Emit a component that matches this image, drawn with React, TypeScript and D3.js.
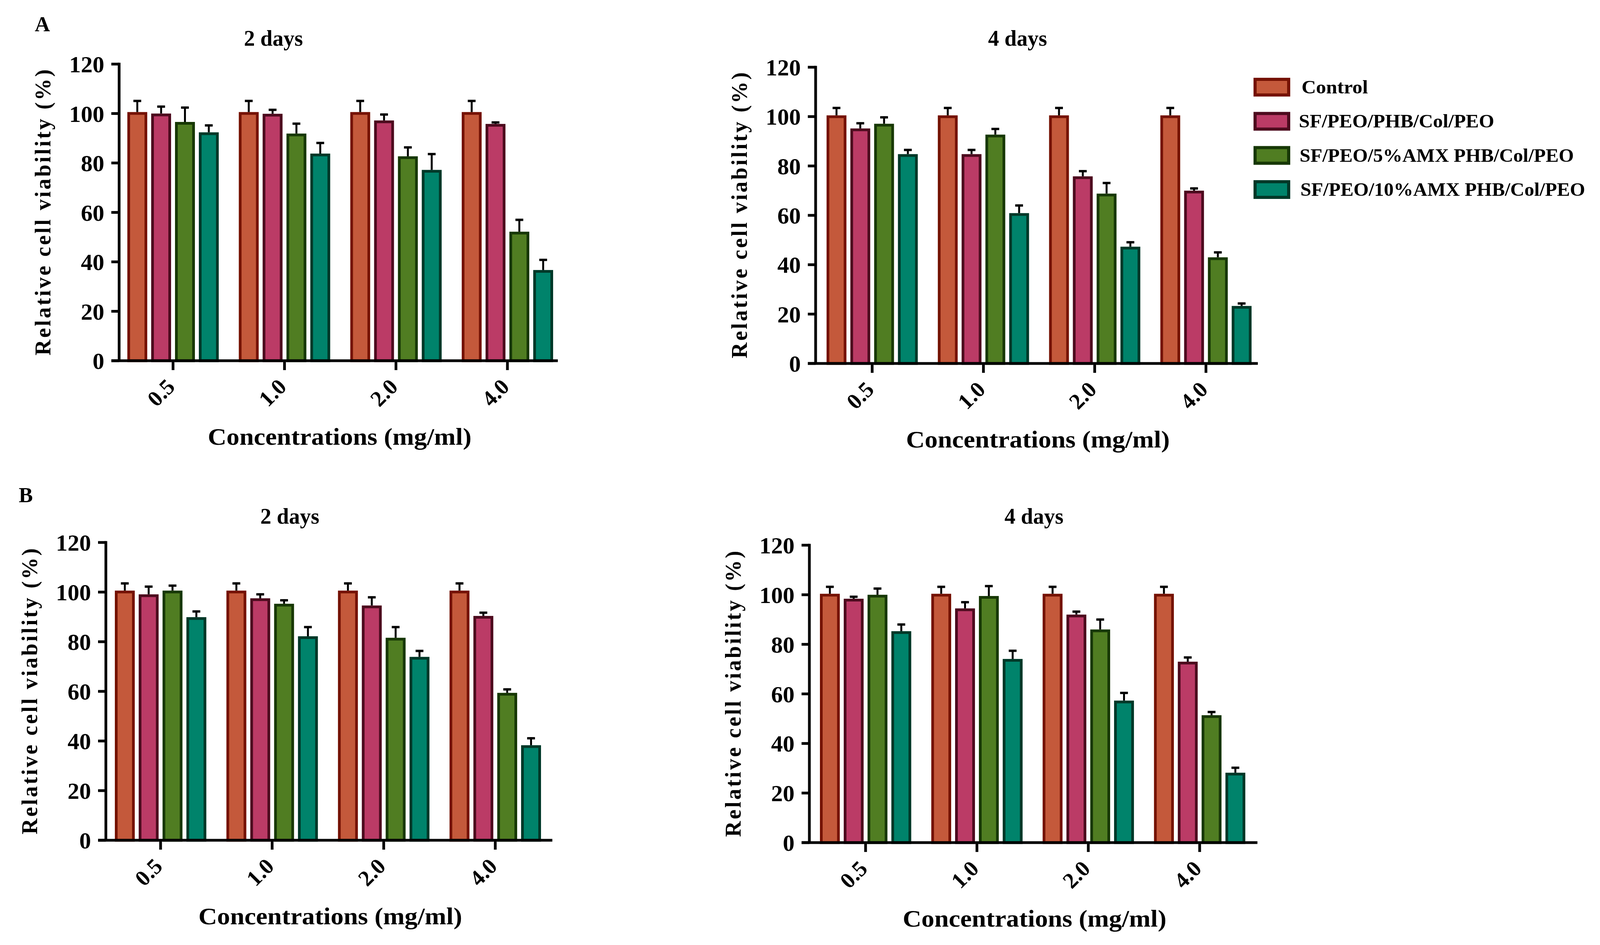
import * as d3 from 'd3';

const categories = ['0.5', '1.0', '2.0', '4.0'];
const seriesNames = [
  'Control',
  'SF/PEO/PHB/Col/PEO',
  'SF/PEO/5%AMX PHB/Col/PEO',
  'SF/PEO/10%AMX PHB/Col/PEO',
];
const yTickValues = [0, 20, 40, 60, 80, 100, 120];

// rows = series, columns = concentrations
const a2Means = [
  [100.6, 100.6, 100.6, 100.6],
  [100.0, 99.9, 97.2, 95.8],
  [96.6, 91.9, 82.7, 52.2],
  [92.4, 83.8, 77.2, 36.7],
];
const a2Errors = [
  [4.5, 4.5, 4.5, 4.5],
  [2.8, 1.6, 2.4, 0.6],
  [5.8, 4.0, 3.6, 4.8],
  [2.8, 4.3, 6.4, 4.1],
];
const a4Means = [
  [100.5, 100.5, 100.5, 100.5],
  [95.2, 84.8, 75.8, 70.0],
  [97.1, 92.7, 68.8, 43.0],
  [84.8, 60.9, 47.3, 23.3],
];
const a4Errors = [
  [3.0, 3.0, 3.0, 3.0],
  [2.1, 1.7, 2.1, 0.9],
  [2.6, 2.3, 4.3, 2.0],
  [1.7, 3.1, 1.8, 1.0],
];
const b2Means = [
  [100.6, 100.6, 100.6, 100.6],
  [99.1, 97.5, 94.6, 90.4],
  [100.6, 95.3, 81.6, 59.4],
  [89.9, 82.2, 73.9, 38.3],
];
const b2Errors = [
  [2.9, 2.9, 2.9, 2.9],
  [3.1, 1.6, 3.3, 1.3],
  [2.0, 1.4, 4.3, 1.4],
  [2.3, 3.7, 2.4, 2.8],
];
const b4Means = [
  [100.4, 100.4, 100.4, 100.4],
  [98.4, 94.5, 92.0, 73.0],
  [100.0, 99.5, 86.0, 51.4],
  [85.3, 74.1, 57.3, 28.2],
];
const b4Errors = [
  [2.8, 2.8, 2.8, 2.8],
  [0.8, 2.5, 1.2, 1.7],
  [2.5, 4.0, 4.0, 1.3],
  [2.7, 3.3, 3.1, 2.0],
];

const fills = ['#c4593b', '#bb3b66', '#507d22', '#00836b'];
const borders = ['#751203', '#4d0a1e', '#173805', '#003828'];

const FONT = '"Liberation Serif", "Times New Roman", serif';
const W = 4102;
const H = 2418;

interface PanelLayout {
  key: string;
  title: string;
  titleX: number;
  titleY: number;
  axisX: number;
  xEnd: number;
  bandStart: number;
  bandEnd: number;
  yTop: number;
  yBottom: number;
  means: number[][];
  errors: number[][];
}

const panels: PanelLayout[] = [
  { key: 'a2', title: '2 days', titleX: 700, titleY: 117, axisX: 305, xEnd: 1428, bandStart: 326, bandEnd: 1416, yTop: 164, yBottom: 923, means: a2Means, errors: a2Errors },
  { key: 'a4', title: '4 days', titleX: 2605, titleY: 117, axisX: 2088, xEnd: 3220, bandStart: 2116, bandEnd: 3204, yTop: 172, yBottom: 930, means: a4Means, errors: a4Errors },
  { key: 'b2', title: '2 days', titleX: 742, titleY: 1340, axisX: 271, xEnd: 1414, bandStart: 294, bandEnd: 1385, yTop: 1388, yBottom: 2150, means: b2Means, errors: b2Errors },
  { key: 'b4', title: '4 days', titleX: 2647, titleY: 1340, axisX: 2072, xEnd: 3219, bandStart: 2099, bandEnd: 3188, yTop: 1395, yBottom: 2156, means: b4Means, errors: b4Errors },
];

const legendWidths = [170, 500, 702, 729];

function Panel({ p }: { p: PanelLayout }) {
  const x = d3.scaleBand<string>().domain(categories).range([p.bandStart, p.bandEnd]).paddingInner(0.18);
  const xs = d3.scaleBand<number>().domain(d3.range(seriesNames.length)).range([0, x.bandwidth()]).paddingInner(0.165);
  const y = d3.scaleLinear().domain([0, 120]).range([p.yBottom, p.yTop]);
  const sw = 7;
  const capW = 20;

  return (
    <g>
      <text x={p.titleX} y={p.titleY} textAnchor="middle" fontFamily={FONT} fontWeight="bold" fontSize={56}>{p.title}</text>

      {categories.map((cat, ci) => (
        <g key={cat}>
          {seriesNames.map((_, si) => {
            const v = p.means[si][ci];
            const bx = (x(cat) ?? 0) + (xs(si) ?? 0);
            const bw = xs.bandwidth();
            return (
              <rect key={si} x={bx + sw / 2} y={y(v) + sw / 2} width={bw - sw} height={y(0) - y(v) - sw / 2}
                fill={fills[si]} stroke={borders[si]} strokeWidth={sw} />
            );
          })}
          {seriesNames.map((_, si) => {
            const v = p.means[si][ci];
            const e = p.errors[si][ci];
            const cx = (x(cat) ?? 0) + (xs(si) ?? 0) + xs.bandwidth() / 2;
            return (
              <g key={`e${si}`} stroke="#000" fill="none">
                <line x1={cx} x2={cx} y1={y(v)} y2={y(v + e)} strokeWidth={5} />
                <line x1={cx - capW / 2} x2={cx + capW / 2} y1={y(v + e)} y2={y(v + e)} strokeWidth={6} />
              </g>
            );
          })}
        </g>
      ))}

      {/* axes */}
      <line x1={p.axisX} x2={p.axisX} y1={y(120) - sw / 2} y2={y(0)} stroke="#000" strokeWidth={sw} />
      <line x1={p.axisX - 20} x2={p.xEnd} y1={y(0)} y2={y(0)} stroke="#000" strokeWidth={sw} />
      {yTickValues.map((t) => (
        <g key={t}>
          <line x1={p.axisX - 20} x2={p.axisX} y1={y(t)} y2={y(t)} stroke="#000" strokeWidth={sw} />
          <text x={p.axisX - 38} y={y(t)} dy="0.35em" textAnchor="end" fontFamily={FONT} fontWeight="bold" fontSize={60}>{t}</text>
        </g>
      ))}
      {categories.map((cat) => {
        const cx = (x(cat) ?? 0) + x.bandwidth() / 2;
        return (
          <g key={cat}>
            <line x1={cx} x2={cx} y1={y(0)} y2={y(0) + 24} stroke="#000" strokeWidth={sw} />
            <text transform={`translate(${cx + 8},${y(0) + 70}) rotate(-45)`} textAnchor="end"
              fontFamily={FONT} fontWeight="bold" fontSize={57}>{cat}</text>
          </g>
        );
      })}

      <text transform={`translate(${p.axisX - 176},${(p.yTop + p.yBottom) / 2}) rotate(-90)`} textAnchor="middle"
        fontFamily={FONT} fontWeight="bold" fontSize={56} textLength={732} lengthAdjust="spacing">
        Relative cell viability (%)
      </text>
      <text x={(p.axisX + p.xEnd) / 2 + 3} y={p.yBottom + 215} textAnchor="middle"
        fontFamily={FONT} fontWeight="bold" fontSize={62} textLength={675} lengthAdjust="spacingAndGlyphs">
        Concentrations (mg/ml)
      </text>
    </g>
  );
}

function Legend() {
  const rows = d3.scaleBand<number>().domain(d3.range(seriesNames.length)).range([199, 509]).paddingInner(0.45);
  return (
    <g>
      {seriesNames.map((name, i) => {
        const top = rows(i) ?? 0;
        const hgt = rows.bandwidth();
        return (
          <g key={name}>
            <rect x={3213} y={top + 4} width={86} height={hgt - 8} fill={fills[i]} stroke={borders[i]} strokeWidth={8} />
            <text x={i === 0 ? 3332 : 3323 + i * 2} y={top + hgt / 2 + 16} fontFamily={FONT} fontWeight="bold" fontSize={48}
              textLength={legendWidths[i]} lengthAdjust="spacingAndGlyphs">{name}</text>
          </g>
        );
      })}
    </g>
  );
}

export default function App() {
  return (
    <svg width={W} height={H} viewBox={`0 0 ${W} ${H}`} style={{ position: 'absolute', left: 0, top: 0, background: '#fff' }}>
      <rect width={W} height={H} fill="#fff" />
      <text x={89} y={80} fontFamily={FONT} fontWeight="bold" fontSize={54}>A</text>
      <text x={48} y={1285} fontFamily={FONT} fontWeight="bold" fontSize={54}>B</text>
      {panels.map((p) => <Panel key={p.key} p={p} />)}
      <Legend />
    </svg>
  );
}
